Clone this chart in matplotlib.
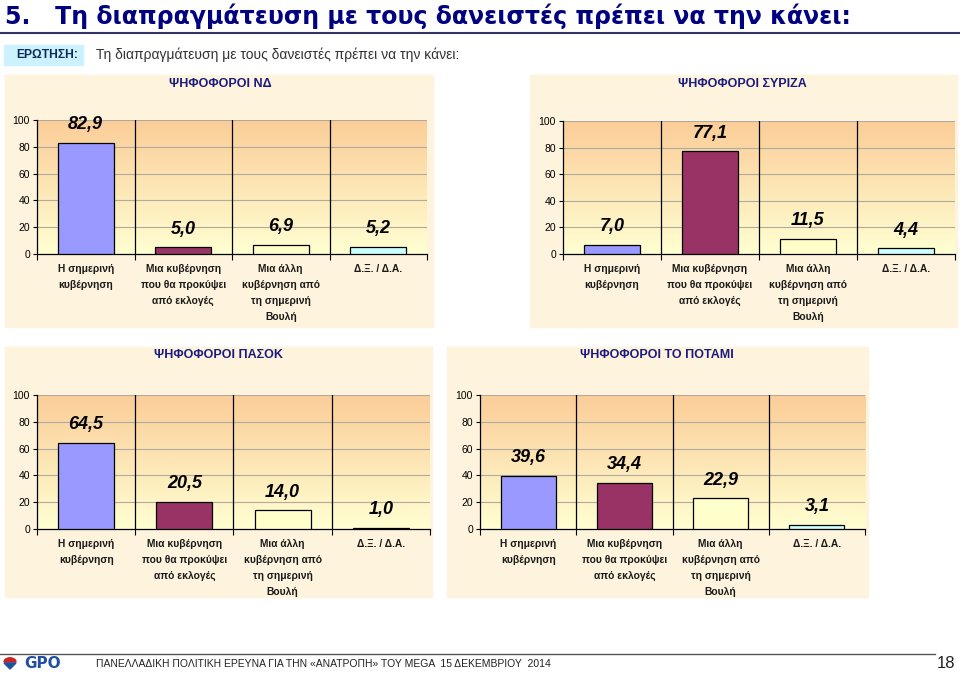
import matplotlib.pyplot as plt
import numpy as np
from matplotlib.patches import Rectangle, Wedge, Polygon
from matplotlib.colors import to_rgb

plt.rcParams['font.family'] = ['Liberation Sans', 'DejaVu Sans']

W, H = 960, 673

categories = ["Η σημερινή\nκυβέρνηση",
              "Μια κυβέρνηση\nπου θα προκύψει\nαπό εκλογές",
              "Μια άλλη\nκυβέρνηση από\nτη σημερινή\nΒουλή",
              "Δ.Ξ. / Δ.Α."]
nd = [82.9, 5.0, 6.9, 5.2]
syriza = [7.0, 77.1, 11.5, 4.4]
pasok = [64.5, 20.5, 14.0, 1.0]
potami = [39.6, 34.4, 22.9, 3.1]
yticks = [0, 20, 40, 60, 80, 100]

bar_colors = ["#9999ff", "#993366", "#ffffcc", "#ccffff"]
navy = "#1a1a80"


def fig_rect(x0, y0, x1, y1):
    # pixel box (top-left origin) -> figure fraction
    return [x0 / W, 1 - y1 / H, (x1 - x0) / W, (y1 - y0) / H]


fig = plt.figure(figsize=(9.6, 6.73), dpi=100)
fig.patch.set_facecolor("white")

# header
fig.text(5 / W, 1 - 16 / H, "5.   Τη διαπραγμάτευση με τους δανειστές πρέπει να την κάνει:",
         fontsize=17, fontweight="bold", color="#000080", va="center", ha="left",
         fontfamily="DejaVu Sans")
fig.add_artist(plt.Line2D([0, 1], [1 - 33 / H] * 2, color="#333366", lw=1.5))
fig.add_artist(Rectangle((4 / W, 1 - 65 / H), 79 / W, 20 / H, color="#ccf2ff",
                         transform=fig.transFigure, zorder=0))
fig.text(16 / W, 1 - 55 / H, "ΕΡΩΤΗΣΗ:", fontsize=8.7, fontweight="bold", color="#0d2a5c",
         va="center", ha="left")
fig.text(96 / W, 1 - 55 / H, "Τη διαπραγμάτευση με τους δανειστές πρέπει να την κάνει:",
         fontsize=10, color="#333333", va="center", ha="left")

# gradient for plot areas
top = np.array(to_rgb("#fbcd98"))
bot = np.array(to_rgb("#ffffd2"))
t = np.linspace(0, 1, 256)[:, None]
grad = (top * (1 - t) + bot * t)[:, None, :].repeat(2, axis=1)

panels = [
    ("ΨΗΦΟΦΟΡΟΙ ΝΔ", nd, (5, 75, 433, 327), (37, 120, 427, 254), (220, 84)),
    ("ΨΗΦΟΦΟΡΟΙ ΣΥΡΙΖΑ", syriza, (530, 75, 957, 327), (563, 121, 955, 254), (742, 84)),
    ("ΨΗΦΟΦΟΡΟΙ ΠΑΣΟΚ", pasok, (5, 347, 432, 597), (37, 395, 430, 529), (218, 355)),
    ("ΨΗΦΟΦΟΡΟΙ ΤΟ ΠΟΤΑΜΙ", potami, (447, 347, 868, 597), (480, 395, 865, 529), (657, 355)),
]

for title, vals, pbox, abox, tpos in panels:
    x0, y0, x1, y1 = pbox
    fig.add_artist(Rectangle((x0 / W, 1 - y1 / H), (x1 - x0) / W, (y1 - y0) / H,
                             color="#fef4dd", transform=fig.transFigure, zorder=0))
    fig.text(tpos[0] / W, 1 - tpos[1] / H, title, fontsize=9, fontweight="bold",
             color=navy, ha="center", va="center")

    ax = fig.add_axes(fig_rect(*abox))
    ax.patch.set_alpha(0)
    ax.imshow(grad, extent=[-0.5, 3.5, 0, 100], aspect="auto", zorder=0)
    ax.set_xlim(-0.5, 3.5)
    ax.set_ylim(0, 100)
    for y in yticks[1:]:
        ax.axhline(y, color="#b0aaa0", lw=0.8, zorder=1)
    for xb in [0.5, 1.5, 2.5]:
        ax.axvline(xb, color="black", lw=0.9, zorder=2)

    x = np.arange(len(vals))
    ax.bar(x, vals, width=0.57, color=bar_colors, edgecolor="black", lw=0.9, zorder=3)
    for xi, v in zip(x, vals):
        ax.annotate(f"{v:.1f}".replace(".", ","), (xi, v), xytext=(0, 13),
                    textcoords="offset points", ha="center", va="center",
                    fontsize=13, fontweight="bold", fontstyle="italic", zorder=4)

    ax.spines["top"].set_visible(False)
    ax.spines["right"].set_visible(False)
    ax.spines["left"].set_linewidth(0.9)
    ax.spines["bottom"].set_linewidth(0.9)
    ax.set_yticks(yticks)
    ax.tick_params(axis="y", length=3, width=0.8, labelsize=7.5, pad=2)
    ax.set_xticks(x)
    ax.set_xticklabels(categories, fontsize=7.4, fontweight="bold", linespacing=1.75,
                       color="#1a1a1a")
    ax.set_xticks([-0.5, 0.5, 1.5, 2.5, 3.5], minor=True)
    ax.tick_params(axis="x", which="major", length=0, pad=7)
    ax.tick_params(axis="x", which="minor", length=4, width=0.8)

# footer
fig.add_artist(plt.Line2D([0, 935 / W], [1 - 654 / H] * 2, color="#555555", lw=1.0))
fig.add_artist(Wedge((10 / W, 1 - 662 / H), 6 / W, 0, 180, color="#cc2222",
                     transform=fig.transFigure))
fig.add_artist(Polygon([(4 / W, 1 - 663 / H), (16 / W, 1 - 663 / H), (10 / W, 1 - 669 / H)],
                       closed=True, color="#2050a0", transform=fig.transFigure))
fig.text(24 / W, 1 - 664 / H, "GPO", fontsize=11, fontweight="bold", color="#2050a0",
         va="center", ha="left", fontfamily="DejaVu Sans")
fig.text(96 / W, 1 - 664 / H,
         "ΠΑΝΕΛΛΑΔΙΚΗ ΠΟΛΙΤΙΚΗ ΕΡΕΥΝΑ ΓΙΑ ΤΗΝ «ΑΝΑΤΡΟΠΗ» ΤΟΥ MEGA  15 ΔΕΚΕΜΒΡΙΟΥ  2014",
         fontsize=7.5, color="#222222", va="center", ha="left",
         fontfamily=["Liberation Sans Narrow", "Liberation Sans", "DejaVu Sans"])
fig.text(955 / W, 1 - 664 / H, "18", fontsize=12, color="#222222", va="center", ha="right")

fig.savefig("out.png", dpi=100)
